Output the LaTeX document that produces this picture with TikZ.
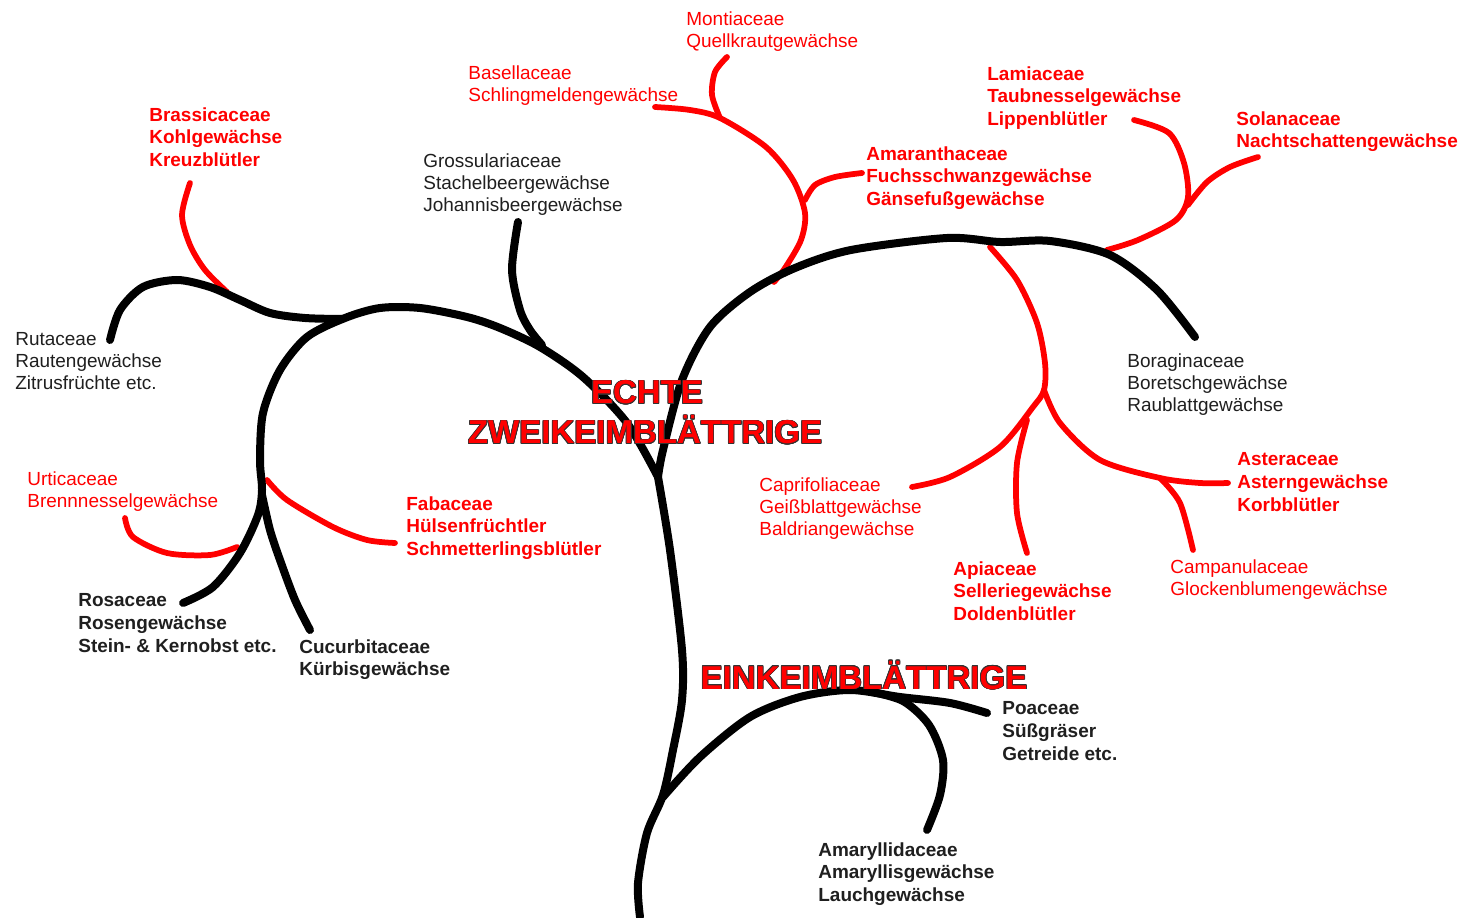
\documentclass[tikz,border=0pt]{standalone}
\usepackage{fontspec}
\setmainfont{Liberation Sans}
\usepackage{contour}
\contourlength{0.4pt}
\begin{document}
\begin{tikzpicture}[x=0.02cm,y=-0.02cm,
  twig/.style={black,line width=0.16cm,line cap=round,line join=round},
  redtwig/.style={red,line width=0.115cm,line cap=round,line join=round},
  fam/.style={anchor=north west,inner sep=0pt,align=left,text=black!88,yshift=-0.04cm,
    font=\fontsize{10.8}{12.5}\selectfont,execute at begin node=\strut},
  famb/.style={fam,font=\bfseries\fontsize{10.8}{13}\selectfont},
  rfam/.style={fam,text=red},
  rfamb/.style={famb,text=red},
  clade/.style={anchor=base,inner sep=0pt,text=red,font=\bfseries\fontsize{18.8}{22}\selectfont}]
\useasboundingbox (0,0) rectangle (1474,918);
\draw[redtwig] plot[smooth] coordinates {(190,183) (182,215) (190,245) (205,270) (227,292)};
\draw[redtwig] plot[smooth] coordinates {(125,518) (133,537) (167,553) (210,555) (237,547)};
\draw[redtwig] plot[smooth] coordinates {(267,480) (287,500) (333,527) (367,540) (395,543)};
\draw[redtwig] plot[smooth] coordinates {(655,107) (690,110) (720,118) (766,147) (793,180) (805,213) (801,240) (785,268) (774,282)};
\draw[redtwig] plot[smooth] coordinates {(727,57) (715,72) (712,95) (720,118)};
\draw[redtwig] plot[smooth] coordinates {(862,173) (835,177) (815,185) (805,200)};
\draw[redtwig] plot[smooth] coordinates {(1134,120) (1169,133) (1184,163) (1188,197) (1176,220) (1138,240) (1107,250)};
\draw[redtwig] plot[smooth] coordinates {(1258,157) (1230,167) (1207,182) (1188,205)};
\draw[redtwig] plot[smooth] coordinates {(990,247) (1017,280) (1037,323) (1045,363) (1044,390) (1033,407) (1000,447) (950,477) (912,487)};
\draw[redtwig] plot[smooth] coordinates {(1027,420) (1017,463) (1017,513) (1027,553)};
\draw[redtwig] plot[smooth] coordinates {(1044,390) (1060,423) (1100,460) (1160,478) (1200,483) (1228,483)};
\draw[redtwig] plot[smooth] coordinates {(1160,478) (1180,503) (1193,550)};
\draw[twig] plot[smooth] coordinates {(640,917) (638,883) (647,833) (663,795) (673,750) (682,700) (682,650) (670,550) (658,477)};
\draw[twig] plot[smooth] coordinates {(658,477) (627,423) (583,377) (540,347) (500,328) (467,317) (420,308) (380,308) (345,318) (307,337) (280,370) (263,413) (260,460) (262,490) (258,515) (240,553) (213,587) (183,603)};
\draw[twig] plot[smooth] coordinates {(342,319) (305,318) (270,313) (240,300) (210,287) (177,280) (143,287) (120,310) (110,340)};
\draw[twig] plot[smooth] coordinates {(262,495) (270,530) (280,560) (295,600) (310,630)};
\draw[twig] plot[smooth] coordinates {(518,222) (512,270) (520,310) (530,330) (542,345)};
\draw[twig] plot[smooth] coordinates {(658,477) (663,450) (682,380) (710,327) (750,292) (795,268) (851,250) (947,238) (1000,242) (1050,241) (1110,255) (1157,290) (1195,337)};
\draw[twig] plot[smooth] coordinates {(663,797) (700,757) (750,717) (800,697) (850,690) (900,697) (950,703) (987,713)};
\draw[twig] plot[smooth] coordinates {(868,691) (903,701) (929,725) (943,760) (940,795) (927,830)};
\node[rfam] (montia) at (686,9) {Montiaceae\\Quellkrautgewächse};
\node[rfam] (basella) at (468,63) {Basellaceae\\Schlingmeldengewächse};
\node[rfamb] (brassica) at (149,105) {Brassicaceae\\Kohlgewächse\\Kreuzblütler};
\node[fam] (grossularia) at (423,151) {Grossulariaceae\\Stachelbeergewächse\\Johannisbeergewächse};
\node[rfamb] (lamia) at (987,64) {Lamiaceae\\Taubnesselgewächse\\Lippenblütler};
\node[rfamb] (solana) at (1236,109) {Solanaceae\\Nachtschattengewächse};
\node[rfamb] (amarantha) at (866,144) {Amaranthaceae\\Fuchsschwanzgewächse\\Gänsefußgewächse};
\node[fam] (ruta) at (15,330) {Rutaceae\\Rautengewächse\\Zitrusfrüchte etc.};
\node[fam] (boragina) at (1127,351) {Boraginaceae\\Boretschgewächse\\Raublattgewächse};
\node[rfam] (urtica) at (27,469) {Urticaceae\\Brennnesselgewächse};
\node[rfam] (caprifolia) at (759,475) {Caprifoliaceae\\Geißblattgewächse\\Baldriangewächse};
\node[rfamb] (astera) at (1237,450) {Asteraceae\\Asterngewächse\\Korbblütler};
\node[rfamb] (faba) at (406,494) {Fabaceae\\Hülsenfrüchtler\\Schmetterlingsblütler};
\node[rfamb] (apia) at (953,559) {Apiaceae\\Selleriegewächse\\Doldenblütler};
\node[rfam] (campanula) at (1170,557) {Campanulaceae\\Glockenblumengewächse};
\node[famb] (rosa) at (78,591) {Rosaceae\\Rosengewächse\\Stein- \& Kernobst etc.};
\node[famb] (cucurbita) at (299,637) {Cucurbitaceae\\Kürbisgewächse};
\node[famb] (poa) at (1002,699) {Poaceae\\Süßgräser\\Getreide etc.};
\node[famb] (amaryllida) at (818,840) {Amaryllidaceae\\Amaryllisgewächse\\Lauchgewächse};
\node[clade] (echte) at (647,404) {\contour{black!80}{ECHTE}};
\node[clade] (zwei) at (645,444) {\contour{black!80}{ZWEIKEIMBLÄTTRIGE}};
\node[clade] (ein) at (864,689) {\contour{black!80}{EINKEIMBLÄTTRIGE}};
\end{tikzpicture}
\end{document}
